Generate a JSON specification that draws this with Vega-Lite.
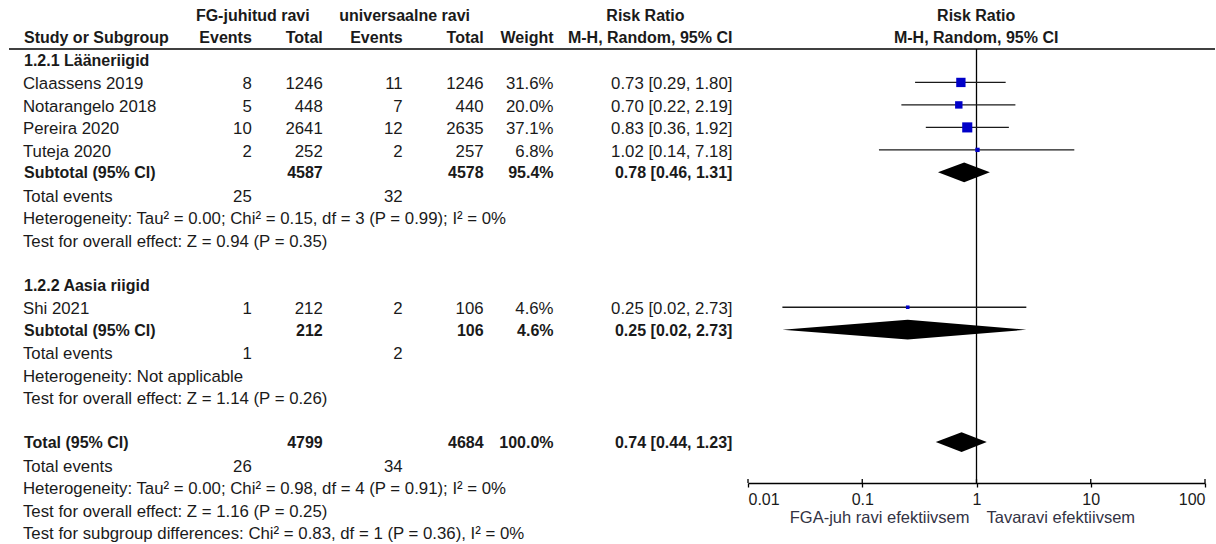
{
  "$schema": "https://vega.github.io/schema/vega-lite/v6.json",
  "width": 1216,
  "height": 544,
  "autosize": {"type": "fit", "contains": "padding"},
  "padding": 0,
  "background": "white",
  "config": {"view": {"stroke": null}, "font": "Liberation Sans"},
  "datasets": {
    "table": [
      {"row": 0, "kind": "span", "hg1": "FG-juhitud ravi", "hg2": "universaalne ravi", "hrr": "Risk Ratio", "hrr2": "Risk Ratio"},
      {"row": 1, "kind": "colhead", "label": "Study or Subgroup", "e1": "Events", "n1": "Total", "e2": "Events", "n2": "Total", "w": "Weight", "ci": "M-H, Random, 95% CI", "hrr2": "M-H, Random, 95% CI"},
      {"row": 2, "kind": "group", "label": "1.2.1 Lääneriigid"},
      {"row": 3, "kind": "study", "label": "Claassens 2019", "e1": "8", "n1": "1246", "e2": "11", "n2": "1246", "w": "31.6%", "ci": "0.73 [0.29, 1.80]", "est": 0.73, "lo": 0.29, "hi": 1.80, "wt": 31.6},
      {"row": 4, "kind": "study", "label": "Notarangelo 2018", "e1": "5", "n1": "448", "e2": "7", "n2": "440", "w": "20.0%", "ci": "0.70 [0.22, 2.19]", "est": 0.70, "lo": 0.22, "hi": 2.19, "wt": 20.0},
      {"row": 5, "kind": "study", "label": "Pereira 2020", "e1": "10", "n1": "2641", "e2": "12", "n2": "2635", "w": "37.1%", "ci": "0.83 [0.36, 1.92]", "est": 0.83, "lo": 0.36, "hi": 1.92, "wt": 37.1},
      {"row": 6, "kind": "study", "label": "Tuteja 2020", "e1": "2", "n1": "252", "e2": "2", "n2": "257", "w": "6.8%", "ci": "1.02 [0.14, 7.18]", "est": 1.02, "lo": 0.14, "hi": 7.18, "wt": 6.8},
      {"row": 7, "kind": "subtotal", "label": "Subtotal (95% CI)", "n1": "4587", "n2": "4578", "w": "95.4%", "ci": "0.78 [0.46, 1.31]", "est": 0.78, "lo": 0.46, "hi": 1.31},
      {"row": 8, "kind": "note", "label": "Total events", "e1": "25", "e2": "32"},
      {"row": 9, "kind": "note", "label": "Heterogeneity: Tau² = 0.00; Chi² = 0.15, df = 3 (P = 0.99); I² = 0%"},
      {"row": 10, "kind": "note", "label": "Test for overall effect: Z = 0.94 (P = 0.35)"},
      {"row": 12, "kind": "group", "label": "1.2.2 Aasia riigid"},
      {"row": 13, "kind": "study", "label": "Shi 2021", "e1": "1", "n1": "212", "e2": "2", "n2": "106", "w": "4.6%", "ci": "0.25 [0.02, 2.73]", "est": 0.25, "lo": 0.02, "hi": 2.73, "wt": 4.6},
      {"row": 14, "kind": "subtotal", "label": "Subtotal (95% CI)", "n1": "212", "n2": "106", "w": "4.6%", "ci": "0.25 [0.02, 2.73]", "est": 0.25, "lo": 0.02, "hi": 2.73},
      {"row": 15, "kind": "note", "label": "Total events", "e1": "1", "e2": "2"},
      {"row": 16, "kind": "note", "label": "Heterogeneity: Not applicable"},
      {"row": 17, "kind": "note", "label": "Test for overall effect: Z = 1.14 (P = 0.26)"},
      {"row": 19, "kind": "subtotal", "label": "Total (95% CI)", "n1": "4799", "n2": "4684", "w": "100.0%", "ci": "0.74 [0.44, 1.23]", "est": 0.74, "lo": 0.44, "hi": 1.23},
      {"row": 20, "kind": "note", "label": "Total events", "e1": "26", "e2": "34"},
      {"row": 21, "kind": "note", "label": "Heterogeneity: Tau² = 0.00; Chi² = 0.98, df = 4 (P = 0.91); I² = 0%"},
      {"row": 22, "kind": "note", "label": "Test for overall effect: Z = 1.16 (P = 0.25)"},
      {"row": 23, "kind": "note", "label": "Test for subgroup differences: Chi² = 0.83, df = 1 (P = 0.36), I² = 0%"}
    ],
    "ticks": [{"t": 0.01}, {"t": 0.1}, {"t": 1}, {"t": 10}, {"t": 100}],
    "favours": [{"left": "FGA-juh ravi efektiivsem", "right": "Tavaravi efektiivsem"}]
  },
  "layer": [
    {
      "data": {"name": "table"},
      "layer": [
        {
          "transform": [{"filter": "datum.kind == 'study' || datum.kind == 'note'"}],
          "mark": {"type": "text", "align": "left", "baseline": "middle", "dy": 2, "font": "Liberation Sans", "fontSize": 16.8, "color": "#1a1a1a"},
          "encoding": {
            "x": {"datum": 23, "type": "quantitative", "scale": {"domain": [0, 1216], "nice": false, "zero": false}, "axis": null},
            "y": {"field": "row", "type": "quantitative", "scale": {"domain": [-0.667, 23.532], "reverse": true, "nice": false, "zero": false}, "axis": null},
            "text": {"field": "label"}
          }
        },
        {
          "transform": [{"filter": "datum.kind == 'group' || datum.kind == 'subtotal' || datum.kind == 'colhead'"}],
          "mark": {"type": "text", "align": "left", "baseline": "middle", "dy": 1, "font": "Liberation Sans", "fontSize": 16, "fontWeight": "bold", "color": "#1a1a1a"},
          "encoding": {
            "x": {"datum": 24, "type": "quantitative", "scale": {"domain": [0, 1216], "nice": false, "zero": false}, "axis": null},
            "y": {"field": "row", "type": "quantitative", "scale": {"domain": [-0.667, 23.532], "reverse": true, "nice": false, "zero": false}, "axis": null},
            "text": {"field": "label"}
          }
        },
        {
          "transform": [
            {"filter": "datum.kind == 'study' || datum.kind == 'note'"},
            {"fold": ["e1", "n1", "e2", "n2", "w", "ci"], "as": ["col", "txt"]},
            {"filter": "isValid(datum.txt)"},
            {"calculate": "[252, 323, 403, 484, 554, 733][indexof(['e1','n1','e2','n2','w','ci'], datum.col)]", "as": "xp"}
          ],
          "mark": {"type": "text", "align": "right", "baseline": "middle", "dy": 2, "font": "Liberation Sans", "fontSize": 16.8, "color": "#1a1a1a"},
          "encoding": {
            "x": {"field": "xp", "type": "quantitative", "scale": {"domain": [0, 1216], "nice": false, "zero": false}, "axis": null},
            "y": {"field": "row", "type": "quantitative", "scale": {"domain": [-0.667, 23.532], "reverse": true, "nice": false, "zero": false}, "axis": null},
            "text": {"field": "txt"}
          }
        },
        {
          "transform": [
            {"filter": "datum.kind == 'subtotal' || datum.kind == 'colhead'"},
            {"fold": ["e1", "n1", "e2", "n2", "w", "ci"], "as": ["col", "txt"]},
            {"filter": "isValid(datum.txt)"},
            {"calculate": "[252, 323, 403, 484, 554, 733][indexof(['e1','n1','e2','n2','w','ci'], datum.col)]", "as": "xp"}
          ],
          "mark": {"type": "text", "align": "right", "baseline": "middle", "dy": 1, "font": "Liberation Sans", "fontSize": 16, "fontWeight": "bold", "color": "#1a1a1a"},
          "encoding": {
            "x": {"field": "xp", "type": "quantitative", "scale": {"domain": [0, 1216], "nice": false, "zero": false}, "axis": null},
            "y": {"field": "row", "type": "quantitative", "scale": {"domain": [-0.667, 23.532], "reverse": true, "nice": false, "zero": false}, "axis": null},
            "text": {"field": "txt"}
          }
        },
        {
          "transform": [
            {"filter": "datum.kind == 'span' || datum.kind == 'colhead'"},
            {"fold": ["hg1", "hg2", "hrr", "hrr2"], "as": ["col", "txt"]},
            {"filter": "isValid(datum.txt)"},
            {"calculate": "[253, 405, 646, 977][indexof(['hg1','hg2','hrr','hrr2'], datum.col)]", "as": "xp"}
          ],
          "mark": {"type": "text", "align": "center", "baseline": "middle", "dy": 1, "font": "Liberation Sans", "fontSize": 16, "fontWeight": "bold", "color": "#1a1a1a"},
          "encoding": {
            "x": {"field": "xp", "type": "quantitative", "scale": {"domain": [0, 1216], "nice": false, "zero": false}, "axis": null},
            "y": {"field": "row", "type": "quantitative", "scale": {"domain": [-0.667, 23.532], "reverse": true, "nice": false, "zero": false}, "axis": null},
            "text": {"field": "txt"}
          }
        },
        {
          "transform": [{"filter": "datum.kind == 'colhead'"}],
          "mark": {"type": "rule", "color": "#000000", "strokeWidth": 1.6},
          "encoding": {
            "x": {"datum": 9, "type": "quantitative", "scale": {"domain": [0, 1216], "nice": false, "zero": false}, "axis": null},
            "x2": {"datum": 1216},
            "y": {"datum": 1.51, "type": "quantitative", "scale": {"domain": [-0.667, 23.532], "reverse": true, "nice": false, "zero": false}, "axis": null}
          }
        }
      ]
    },
    {
      "layer": [
        {
          "data": {"name": "ticks"},
          "transform": [{"filter": "datum.t == 1"}],
          "mark": {"type": "rule", "color": "#000000", "strokeWidth": 1.3},
          "encoding": {
            "x": {"field": "t", "type": "quantitative", "scale": {"type": "log", "domain": [0.01, 100], "range": [748, 1205], "nice": false},
              "axis": {"values": [0.01, 0.1, 1, 10, 100], "orient": "bottom", "offset": -61, "grid": false, "title": null, "domainColor": "#000000", "domainWidth": 1.3, "tickColor": "#000000", "tickWidth": 1.3, "tickSize": 4, "labelFlush": true, "labelFont": "Liberation Sans", "labelFontSize": 16, "labelColor": "#1a1a1a", "labelPadding": 4, "labelExpr": "format(datum.value, '~g')"}},
            "y": {"datum": 1.51, "type": "quantitative", "scale": {"domain": [-0.667, 23.532], "reverse": true, "nice": false, "zero": false}, "axis": null},
            "y2": {"datum": 20.82}
          }
        },
        {
          "data": {"name": "ticks"},
          "mark": {"type": "rule", "color": "#000000", "strokeWidth": 1.3},
          "encoding": {
            "x": {"field": "t", "type": "quantitative"},
            "y": {"datum": 20.64, "type": "quantitative"},
            "y2": {"datum": 20.82}
          }
        },
        {
          "data": {"name": "table"},
          "transform": [{"filter": "datum.kind == 'study'"}],
          "mark": {"type": "rule", "color": "#1a1a1a", "strokeWidth": 1.3},
          "encoding": {
            "x": {"field": "lo", "type": "quantitative"},
            "x2": {"field": "hi"},
            "y": {"field": "row", "type": "quantitative"}
          }
        },
        {
          "data": {"name": "table"},
          "transform": [{"filter": "datum.kind == 'study'"}],
          "mark": {"type": "square", "filled": true, "color": "#0000c8", "opacity": 1},
          "encoding": {
            "x": {"field": "est", "type": "quantitative"},
            "y": {"field": "row", "type": "quantitative"},
            "size": {"field": "wt", "type": "quantitative", "scale": {"domain": [0, 40], "range": [0, 110]}, "legend": null}
          }
        },
        {
          "data": {"name": "table"},
          "transform": [
            {"filter": "datum.kind == 'subtotal'"},
            {"fold": ["lo", "est", "hi"], "as": ["pt", "xv"]},
            {"calculate": "datum.pt == 'est' ? 0.44 : 0", "as": "h"},
            {"calculate": "datum.row - datum.h", "as": "ya"},
            {"calculate": "datum.row + datum.h", "as": "yb"}
          ],
          "mark": {"type": "area", "orient": "vertical", "color": "#000000", "interpolate": "linear", "opacity": 1},
          "encoding": {
            "x": {"field": "xv", "type": "quantitative"},
            "y": {"field": "ya", "type": "quantitative", "stack": null},
            "y2": {"field": "yb"},
            "detail": {"field": "row", "type": "nominal"}
          }
        },
        {
          "data": {"name": "favours"},
          "mark": {"type": "text", "align": "right", "baseline": "middle", "dx": -7, "font": "Liberation Sans", "fontSize": 16.5, "color": "#333344"},
          "encoding": {
            "x": {"datum": 1, "type": "quantitative"},
            "y": {"datum": 22.38, "type": "quantitative"},
            "text": {"field": "left"}
          }
        },
        {
          "data": {"name": "favours"},
          "mark": {"type": "text", "align": "left", "baseline": "middle", "dx": 10, "font": "Liberation Sans", "fontSize": 16.5, "color": "#333344"},
          "encoding": {
            "x": {"datum": 1, "type": "quantitative"},
            "y": {"datum": 22.38, "type": "quantitative"},
            "text": {"field": "right"}
          }
        }
      ]
    }
  ],
  "resolve": {"scale": {"x": "independent"}}
}
